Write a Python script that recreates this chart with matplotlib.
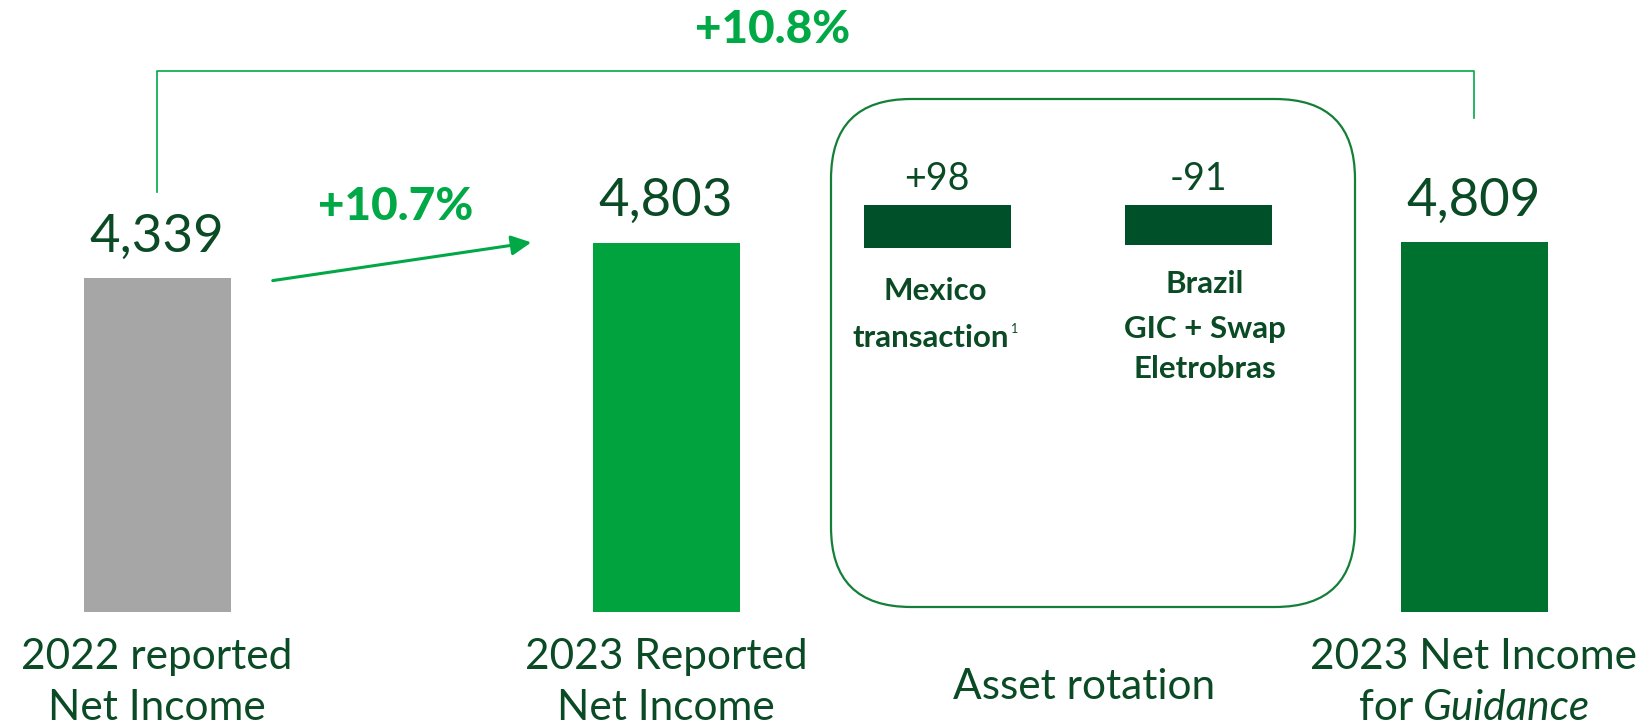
import matplotlib
matplotlib.use("Agg")
import matplotlib.pyplot as plt
from matplotlib.patches import FancyBboxPatch, FancyArrowPatch
from matplotlib.transforms import Affine2D

# ---- data ----
main_labels = [["2022 reported", "Net Income"], ["2023 Reported", "Net Income"], ["2023 Net Income", "for Guidance"]]
main_values = [4339, 4803, 4809]
main_text = ["4,339", "4,803", "4,809"]
adj_labels = [["Mexico", "transaction"], ["Brazil", "GIC + Swap", "Eletrobras"]]
adj_values = [98, -91]
adj_text = ["+98", "-91"]
pct_short = "+10.7%"
pct_long = "+10.8%"
group_label = "Asset rotation"

# ---- style ----
W, H = 1647, 725
FONT = "Lato"
TXT = "#0A4A24"
PCT = "#00A846"
bar_colors = ["#A6A6A6", "#00A33D", "#00722F"]
adj_color = "#00502A"

fig = plt.figure(figsize=(W / 100, H / 100), dpi=100)
fig.patch.set_facecolor("white")
px = Affine2D().scale(1, -1).translate(0, H)  # pixel coords (y down) -> display

# main axes in value units, whole figure
s = 13.0  # value units per pixel
base_px = 612
ax = fig.add_axes([0, 0, 1, 1])
ax.set_xlim(0, W)
ax.set_ylim(-(H - base_px) * s, base_px * s)
ax.axis("off")

centers = [157, 666, 1474]
bw = 147
ax.bar(centers, main_values, width=bw, color=bar_colors, zorder=2)
for c, v, t in zip(centers, main_values, main_text):
    ax.annotate(t, (c, v), xytext=(0, 19), textcoords="offset points",
                ha="center", va="baseline", fontsize=38, family=FONT,
                fontweight="normal", color=TXT)

# category labels
def ptext(x, y, t, **kw):
    kw.setdefault("family", FONT)
    kw.setdefault("color", TXT)
    return fig.text(x, y, t, transform=px, **kw)

LS = 30.5
for c, lab in zip(centers[:2], main_labels[:2]):
    ptext(c, 669, lab[0], ha="center", va="baseline", fontsize=LS)
    ptext(c, 720, lab[1], ha="center", va="baseline", fontsize=LS)
ptext(centers[2], 669, main_labels[2][0], ha="center", va="baseline", fontsize=LS)
first, second = main_labels[2][1].split(" ", 1)
ptext(1413, 720, first, ha="right", va="baseline", fontsize=LS)
ptext(1423, 720, second, ha="left", va="baseline", fontsize=LS, style="italic")
ptext(1084, 699, group_label, ha="center", va="baseline", fontsize=LS)

# rounded box
box = FancyBboxPatch((831, 99), 524, 508, boxstyle="round,pad=0,rounding_size=80",
                     transform=px, fill=False, edgecolor="#137F37", linewidth=1.6)
fig.add_artist(box)

# inset axes for the adjustments
x0, y0top, hpx = 831, 205, 120
iax = fig.add_axes([x0 / W, 1 - (y0top + hpx) / H, 524 / W, hpx / H])
iax.axis("off")
iax.set_xlim(0, 524)
sa = 98 / 43.0
iax.set_ylim(-hpx * sa, 0)
adj_centers = [106, 367]
iax.bar(adj_centers, [-abs(v) for v in adj_values], width=147, color=adj_color)
for c, t in zip(adj_centers, adj_text):
    ptext(x0 + c, 190, t, ha="center", va="baseline", fontsize=27)

ptext(935, 300, adj_labels[0][0], ha="center", va="baseline", fontsize=22.5, fontweight="bold")
tr = ptext(931, 347, adj_labels[0][1], ha="center", va="baseline", fontsize=22.5, fontweight="bold")
ax.annotate("1", xy=(1.0, 0.62), xycoords=tr, xytext=(1, 0), textcoords="offset points",
            ha="left", va="bottom", fontsize=9, family=FONT, color=TXT, annotation_clip=False)
for yb, t in zip([293, 338, 378], adj_labels[1]):
    ptext(1205, yb, t, ha="center", va="baseline", fontsize=22.5, fontweight="bold")

# percentage annotations
ptext(773, 43, pct_long, ha="center", va="baseline", fontsize=33, fontweight="black", color=PCT)
ptext(396, 220, pct_short, ha="center", va="baseline", fontsize=33, fontweight="black", color=PCT)

# bracket line
fig.add_artist(plt.Line2D([157, 157, 1474, 1474], [192, 71, 71, 118], transform=px,
                          color=PCT, linewidth=1.2))
# arrow
arr = FancyArrowPatch((270, 281), (534, 242), transform=px, arrowstyle="-|>,head_length=12,head_width=6",
                      color=PCT, linewidth=2.2, mutation_scale=1)
fig.add_artist(arr)

fig.savefig("out.png", dpi=100, facecolor="white")
